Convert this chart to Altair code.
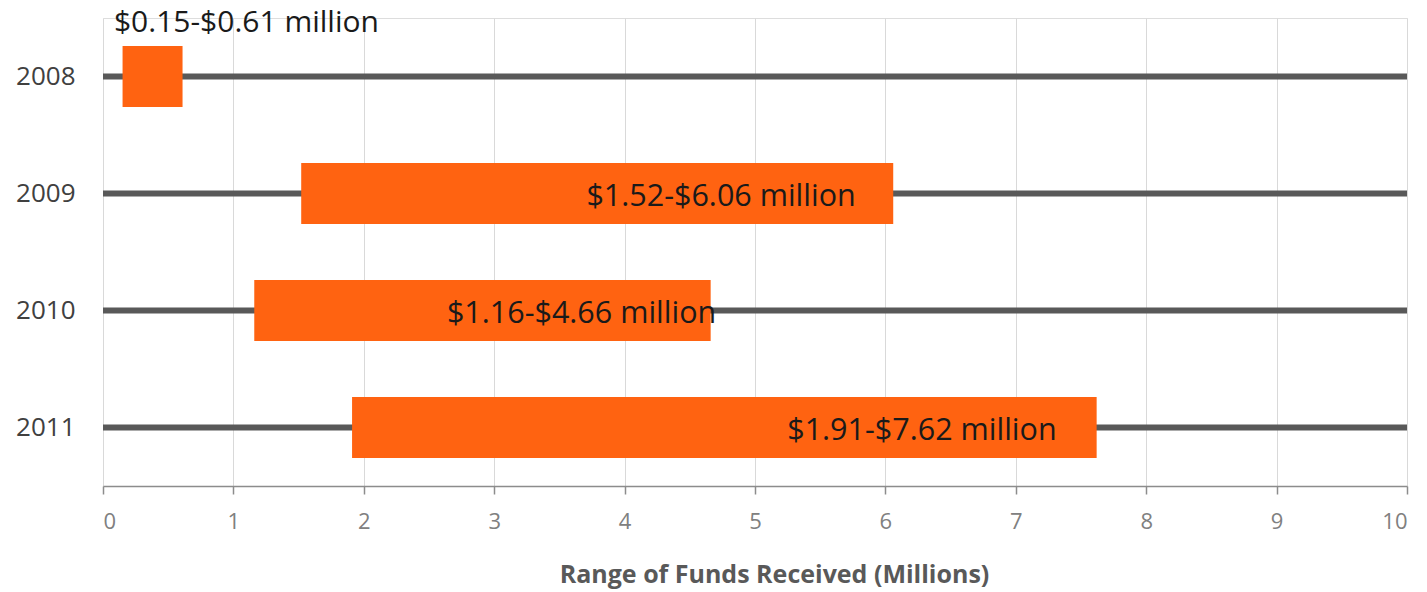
import altair as alt
import pandas as pd

years = ["2008", "2009", "2010", "2011"]
low = [0.15, 1.52, 1.16, 1.91]
high = [0.61, 6.06, 4.66, 7.62]
labels = ["$0.15-$0.61 million", "$1.52-$6.06 million", "$1.16-$4.66 million", "$1.91-$7.62 million"]
label_x = [1.10, 4.74, 3.67, 6.28]
label_above = [True, False, False, False]
axis_min = [0, 0, 0, 0]
axis_max = [10, 10, 10, 10]

df = pd.DataFrame({
    "year": years, "low": low, "high": high, "label": labels,
    "lx": label_x, "above": label_above, "amin": axis_min, "amax": axis_max,
})

FONT = "Open Sans"

x_scale = alt.Scale(domain=[0, 10], nice=False, zero=True)
y_scale = alt.Scale(domain=years, paddingInner=0, paddingOuter=0)

xax = alt.Axis(
    values=list(range(0, 11)), format="d", grid=True, gridColor="#d9d9d9", gridWidth=1,
    domainColor="#8c8c8c", domainWidth=1.5, tickColor="#8c8c8c", tickSize=8, tickWidth=1.5,
    labelColor="#808080", labelFontSize=22, labelFont=FONT, labelPadding=17,
    title="Range of Funds Received (Millions)", titleFont=FONT, titleFontSize=25,
    titleFontWeight="bold", titleColor="#595959", titlePadding=30, titleX=671,
)
yax = alt.Axis(
    domain=False, ticks=False, grid=False, labelColor="#404040", labelFontSize=26,
    labelFont=FONT, labelPadding=28, title=None,
)

base = alt.Chart(df)

rules = base.mark_rule(color="#595959", strokeWidth=6).encode(
    x=alt.X("amin:Q", scale=x_scale, axis=xax),
    x2="amax:Q",
    y=alt.Y("year:N", scale=y_scale, axis=yax, sort=years),
)

bars = base.mark_bar(color="#FF6311", height=61).encode(
    x=alt.X("low:Q", scale=x_scale),
    x2="high:Q",
    y=alt.Y("year:N", scale=y_scale, sort=years),
)

text_in = base.transform_filter("!datum.above").mark_text(
    font=FONT, fontSize=30.5, color="#1a1a1a", align="center", baseline="middle", dy=3,
).encode(
    x=alt.X("lx:Q", scale=x_scale),
    y=alt.Y("year:N", scale=y_scale, sort=years),
    text="label:N",
)

text_above = base.transform_filter("datum.above").mark_text(
    font=FONT, fontSize=30, color="#1a1a1a", align="center", baseline="middle", dy=-54,
).encode(
    x=alt.X("lx:Q", scale=x_scale),
    y=alt.Y("year:N", scale=y_scale, sort=years),
    text="label:N",
)

chart = alt.layer(rules, bars, text_in, text_above).properties(
    width=1304, height=468,
    autosize=alt.AutoSizeParams(type="none"),
    padding={"left": 103, "top": 18, "right": 20, "bottom": 106},
).configure_view(stroke=None).configure(background="white")

chart.save("out.html", embed_options={"renderer": "svg", "actions": False})
